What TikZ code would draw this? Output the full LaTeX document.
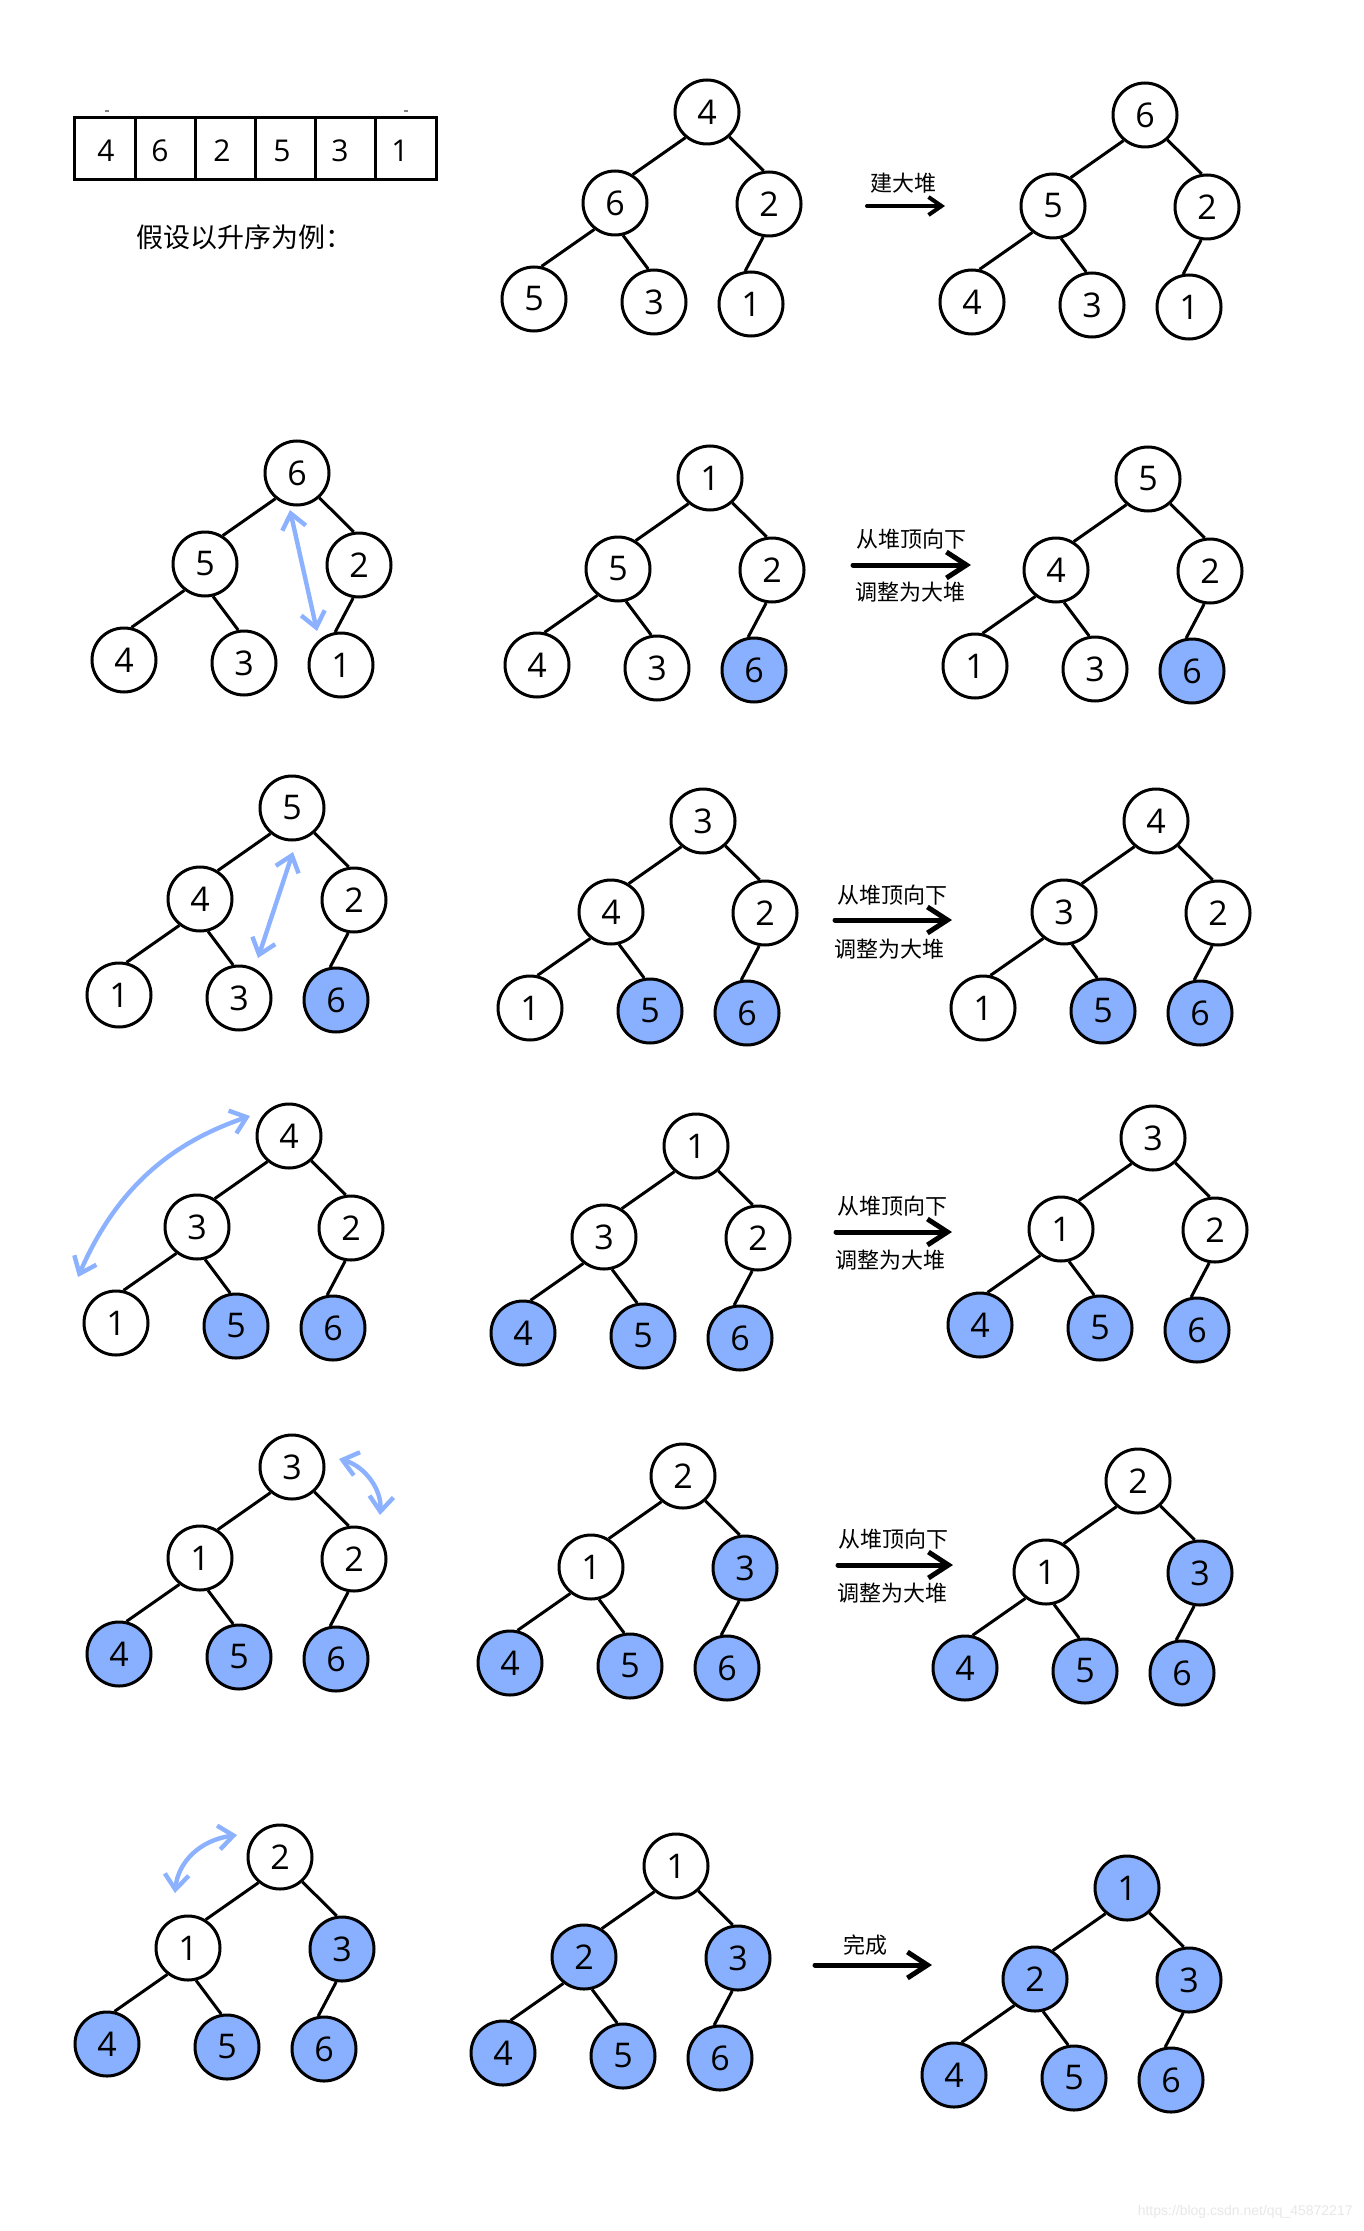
\documentclass[tikz,border=0pt]{standalone}
\usepackage{fontspec}
\setmainfont{Open Sans}
\newfontfamily\numfont{Open Sans}
\newfontfamily\cjk{Noto Sans CJK SC}
\newfontfamily\wmfont{Liberation Sans}
\usetikzlibrary{arrows.meta}
\definecolor{B}{RGB}{137,176,255}
\definecolor{W}{RGB}{255,255,255}
\definecolor{AB}{RGB}{140,178,255}
\definecolor{WM}{RGB}{232,232,232}
\def\hdx{{0,-92,62,-173,-53,44}}
\def\hdy{{0,91,92,187,190,192}}
\newcommand\heaptree[4]{%
  \foreach \hcol/\hlab [count=\hi from 0] in {#4} {%
    \pgfmathsetmacro\hpx{#2+\hdx[\hi]}%
    \pgfmathsetmacro\hpy{#3+\hdy[\hi]}%
    \node[hn, fill=\hcol] (#1\hi) at (\hpx,\hpy) {\hlab};
  }%
  \draw[edge] (#10.230) -- (#11.58) (#10.312) -- (#12.99)
              (#11.232) -- (#13.77) (#11.284) -- (#14.100)
              (#12.260) -- (#15.100);
}
\begin{document}
\begin{tikzpicture}[x=0.5pt,y=-0.5pt,
  hn/.style={circle, draw=black, line width=1.5pt, minimum size=32pt, inner sep=0pt,
    font=\numfont\fontsize{17pt}{17pt}\selectfont},
  edge/.style={line width=1.5pt},
  cell/.style={draw=black, line width=1.5pt, minimum width=30.1pt, minimum height=31pt, inner sep=0pt},
  adigit/.style={inner sep=0pt, font=\numfont\fontsize{15pt}{15pt}\selectfont},
  lab/.style={inner sep=0pt, font=\cjk\fontsize{11pt}{11pt}\selectfont},
  bigarr/.style={line width=2.5pt, line cap=round, -{Straight Barb[length=10pt,width=13pt]}},
  smallarr/.style={line width=2pt, line cap=round, -{Straight Barb[length=6.5pt,width=9pt]}},
  barr/.style={draw=AB, line width=2.2pt, line cap=round,
    {Straight Barb[length=7.5pt,width=12pt]}-{Straight Barb[length=7.5pt,width=12pt]}}
]
\useasboundingbox (0,0) rectangle (1364,2231);
\fill[white] (0,0) rectangle (1364,2231);

% array
\foreach \i in {1,...,6} {
  \node[cell] (c\i) at ({75+60.17*(\i-0.5)},149) {};
}
\foreach \v/\x [count=\i] in {4/106,6/160,2/222,5/282,3/340,1/400} {
  \node[adigit] (d\i) at (\x,151) {\v};
}
\draw[line width=0.6pt, gray] (105,111) -- (109,111);
\draw[line width=0.6pt, gray] (404,111) -- (408,111);
\node[anchor=west, inner sep=0pt, font=\cjk\fontsize{13.5pt}{13.5pt}\selectfont] (title) at (136,237) {假设以升序为例：};

% trees
\heaptree{A}{707}{112}{W/4,W/6,W/2,W/5,W/3,W/1}
\heaptree{Bt}{1145}{115}{W/6,W/5,W/2,W/4,W/3,W/1}
\heaptree{C}{297}{473}{W/6,W/5,W/2,W/4,W/3,W/1}
\heaptree{D}{710}{478}{W/1,W/5,W/2,W/4,W/3,B/6}
\heaptree{E}{1148}{479}{W/5,W/4,W/2,W/1,W/3,B/6}
\heaptree{F}{292}{808}{W/5,W/4,W/2,W/1,W/3,B/6}
\heaptree{G}{703}{821}{W/3,W/4,W/2,W/1,B/5,B/6}
\heaptree{H}{1156}{821}{W/4,W/3,W/2,W/1,B/5,B/6}
\heaptree{I}{289}{1136}{W/4,W/3,W/2,W/1,B/5,B/6}
\heaptree{J}{696}{1146}{W/1,W/3,W/2,B/4,B/5,B/6}
\heaptree{K}{1153}{1138}{W/3,W/1,W/2,B/4,B/5,B/6}
\heaptree{L}{292}{1467}{W/3,W/1,W/2,B/4,B/5,B/6}
\heaptree{M}{683}{1476}{W/2,W/1,B/3,B/4,B/5,B/6}
\heaptree{N}{1138}{1481}{W/2,W/1,B/3,B/4,B/5,B/6}
\heaptree{O}{280}{1857}{W/2,W/1,B/3,B/4,B/5,B/6}
\heaptree{P}{676}{1866}{W/1,B/2,B/3,B/4,B/5,B/6}
\heaptree{Q}{1127}{1888}{B/1,B/2,B/3,B/4,B/5,B/6}

% row arrows and labels
\coordinate (r1s) at (867,206); \coordinate (r1e) at (945,206);
\draw[smallarr] (r1s) -- (r1e);
\node[lab] (t1) at (903,183) {建大堆};

\coordinate (r2s) at (853,565); \coordinate (r2e) at (971,565);
\draw[bigarr] (r2s) -- (r2e);
\node[lab] (t2a) at (911,539) {从堆顶向下};
\node[lab] (t2b) at (910,592) {调整为大堆};

\coordinate (r3s) at (835,920); \coordinate (r3e) at (952,920);
\draw[bigarr] (r3s) -- (r3e);
\node[lab] (t3a) at (892,895) {从堆顶向下};
\node[lab] (t3b) at (889,949) {调整为大堆};

\coordinate (r4s) at (836,1232); \coordinate (r4e) at (952,1232);
\draw[bigarr] (r4s) -- (r4e);
\node[lab] (t4a) at (892,1206) {从堆顶向下};
\node[lab] (t4b) at (890,1260) {调整为大堆};

\coordinate (r5s) at (838,1565); \coordinate (r5e) at (953,1565);
\draw[bigarr] (r5s) -- (r5e);
\node[lab] (t5a) at (893,1539) {从堆顶向下};
\node[lab] (t5b) at (892,1593) {调整为大堆};

\coordinate (r6s) at (815,1965); \coordinate (r6e) at (932,1965);
\draw[bigarr] (r6s) -- (r6e);
\node[lab] (t6) at (865,1945) {完成};

% blue swap arrows
\coordinate (cs) at (290,510); \coordinate (ce) at (317,631);
\draw[barr] (cs) -- (ce);
\coordinate (fs) at (293,852); \coordinate (fe) at (258,958);
\draw[barr] (fs) -- (fe);
\coordinate (is) at (250,1116); \coordinate (ie) at (78,1277);
\draw[barr] (is) .. controls (180,1140) and (120,1180) .. (ie);
\coordinate (ls) at (339,1459); \coordinate (le) at (380,1515);
\draw[barr] (ls) .. controls (365,1466) and (382,1490) .. (le);
\coordinate (os) at (237,1835); \coordinate (oe) at (175,1893);
\draw[barr] (os) .. controls (200,1840) and (178,1862) .. (oe);

% watermark
\node[anchor=east, inner sep=0pt, text=WM, font=\wmfont\fontsize{7pt}{7pt}\selectfont] (wm) at (1353,2212) {https://blog.csdn.net/qq\_45872217};
\end{tikzpicture}
\end{document}
